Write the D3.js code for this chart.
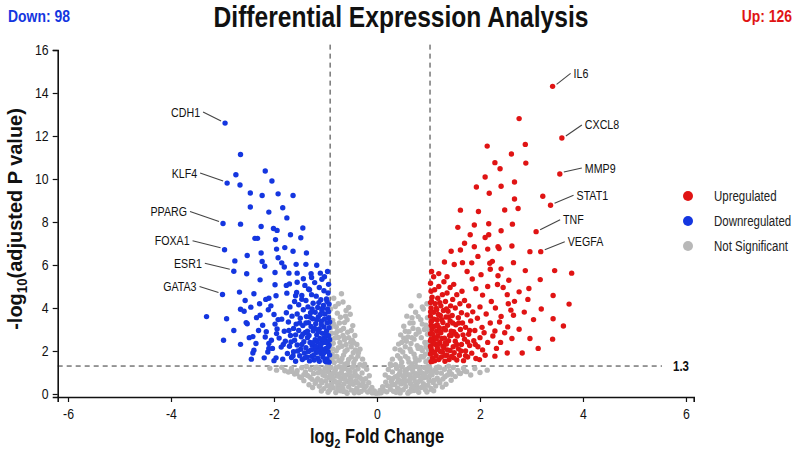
<!DOCTYPE html>
<html><head><meta charset="utf-8">
<script src="https://cdn.jsdelivr.net/npm/d3@7"></script>
<style>
html,body{margin:0;padding:0;background:#fff;}
svg{display:block;}
text{font-family:'Liberation Sans',Arial,sans-serif;}
</style></head>
<body>
<svg id="chart" width="800" height="452"></svg>
<script>
// ---------- DATA ----------
const title = "Differential Expression Analysis";
const downCount = 98;
const upCount = 126;
const xTicks = [-6,-4,-2,0,2,4,6];
const yTicks = [0,2,4,6,8,10,12,14,16];
const fcThresholdLow = -0.91;
const fcThresholdHigh = 1.03;
const pThreshold = 1.3;
const legendLabels = ["Upregulated","Downregulated","Not Significant"];

// labelled genes [name, log2FC, -log10 p]
const labeledDown = [["CDH1",-2.95,12.6],["KLF4",-2.91,9.81],["PPARG",-2.99,7.93],["FOXA1",-2.96,6.71],["ESR1",-2.78,5.71],["GATA3",-3.0,4.63]];
const labeledUp = [["IL6",3.41,14.31],["CXCL8",3.59,11.91],["MMP9",3.55,10.23],["STAT1",3.37,8.78],["TNF",3.09,7.55],["VEGFA",3.18,6.62]];

// downregulated genes [log2FC, -log10 p]
const downPoints = [
[-2.65,11.14],[-2.74,10.2],[-2.17,10.37],[-2.66,9.72],[-2.04,9.91],[-2.46,9.35],[-2.23,9.23],[-1.92,9.31],[-1.63,9.23],[-2.46,8.7],[-2.1,8.46],[-1.83,8.66],[-1.75,8.19],[-2.65,7.9],[-2.25,7.79],[-2.01,7.7],[-1.94,7.61],[-1.68,7.41],[-1.44,7.72],[-1.48,7.27],[-2.37,7.24],[-2.32,7.24],[-1.97,7.18],
[-2.52,6.44],[-2.25,6.56],[-1.95,6.74],[-1.79,6.81],[-1.63,6.64],[-1.37,6.56],[-1.92,6.34],[-2.76,6.19],[-2.53,5.59],[-2.23,6.16],[-2.18,5.94],[-2.27,5.31],[-1.98,5.65],[-1.85,6.1],[-1.8,5.91],[-1.57,6.03],[-1.38,6.03],[-1.17,5.99],[-1.71,5.62],[-1.55,5.62],[-1.28,5.59],[-1.07,5.34],[-1.98,5.08],[-1.76,5.05],[-1.7,5.12],[-1.55,5.2],[-1.43,5.36],[-1.31,4.85],
[-2.67,4.74],[-2.39,4.66],[-2.16,4.4],[-1.96,4.57],[-1.75,4.69],[-1.58,4.57],[-1.46,4.41],[-3.31,3.6],[-2.92,3.5],[-2.65,3.94],[-2.45,4.04],[-2.11,3.92],[-2.27,3.66],[-1.92,3.46],[-2.52,3.27],[-2.78,2.95],[-2.98,2.5],[-2.65,2.31],[-2.41,2.67],[-2.17,2.65],[-2.1,2.35],[-2.1,2.12],[-2.19,1.68],[-1.96,1.68],[-2.39,2.04],[-1.95,2.81],
[-2.54,3.32],[-2.41,1.91],[-2.3,2.95],[-2.05,2.5],[-2.22,3.2],[-2.0,3.7],[-2.12,1.95],[-2.35,2.35],[-2.48,2.62],[-2.03,2.12],[-2.28,4.2],[-2.06,4.1],[-2.58,3.85],[-2.15,2.9],[-2.0,1.55],[-2.34,3.55],[-2.44,1.62],[-1.98,3.25],[-2.1,4.45],[-2.56,4.35],
[-0.93,1.48],[-0.97,1.63],[-0.92,1.81],[-1.01,1.55],[-1.05,1.72],[-0.95,1.97],[-1.12,1.52],[-1.09,1.88],[-0.99,2.12],[-0.93,2.27],[-1.15,1.66],[-1.04,2.03],[-1.18,1.93],[-1.22,1.58],[-1.13,2.18],[-0.96,2.45],[-1.07,2.36],[-1.27,1.75],[-1.21,2.08],[-1.02,2.62],[-0.94,2.71],[-1.16,2.44],[-1.31,1.54],[-1.33,1.98],[-1.26,2.27],[-1.11,2.58],[-0.98,2.93],[-1.36,1.72],[-1.2,2.52],[-1.06,2.82],[-0.93,3.08],[-1.41,1.91],[-1.3,2.4],[-1.17,2.75],[-1.38,2.15],[-1.45,1.6],[-1.03,3.12],[-1.24,2.94],[-1.12,3.02],[-0.97,3.31],[-1.48,2.08],[-1.35,2.62],[-1.5,1.78],[-1.28,3.14],[-1.42,2.43],[-1.08,3.38],[-0.94,3.55],[-1.19,3.27],[-1.55,2.28],[-1.39,2.86],[-1.58,1.52],[-1.33,3.32],[-1.01,3.72],[-1.47,2.66],[-1.62,1.97],[-1.14,3.58],[-1.25,3.5],[-1.6,2.5],[-0.96,3.95],[-1.52,2.95],[-1.66,1.7],[-1.07,3.88],[-1.37,3.6],[-1.7,2.22],[-1.44,3.18],[-1.2,3.8],[-0.93,4.18],[-1.57,3.25],[-1.74,1.88],[-1.29,3.78],[-1.68,2.72],[-1.04,4.12],[-1.49,3.52],[-1.78,2.45],[-1.15,4.02],[-1.62,3.05],[-0.98,4.42],[-1.34,4.05],[-1.83,1.62],[-1.55,3.72],[-1.24,4.22],[-1.72,3.35],[-1.09,4.38],[-1.86,2.18],[-1.43,3.92],[-0.95,4.7],[-1.65,3.62],[-1.8,2.92],[-1.18,4.55],[-1.38,4.35],[-1.03,4.8],[-1.52,4.15],[-1.9,2.6],[-1.27,4.62],[-1.76,3.78],[-1.12,4.95],[-1.6,4.3],[-0.94,5.1],[-1.46,4.58],[-1.94,3.02],[-1.69,4.05],[-1.33,4.88],[-1.21,5.18],[-1.02,5.45],[-1.85,3.48],[-1.56,4.72],[-1.4,5.05],[-0.96,5.7],[-1.1,5.62],[-1.27,5.42],
[-0.99,1.5],[-1.03,1.92],[-0.95,2.18],[-1.08,2.12],[-1.14,1.98],[-1.0,2.4],[-1.06,2.55],[-0.92,2.52],[-1.1,2.3],[-1.19,2.22],[-1.23,1.8],[-1.28,2.05],[-1.24,2.38],[-1.14,2.9],[-0.99,2.78],[-1.32,2.72],[-1.08,3.22],[-0.92,3.35],[-1.21,3.05],[-1.4,1.68],[-1.46,2.3],[-1.02,3.48],[-1.17,3.45],[-0.94,3.82],[-1.35,2.92],[-1.3,3.58],[-1.1,3.7],[-1.54,2.0],[-1.44,2.78],[-1.06,3.98],[-1.26,3.95],[-1.67,2.42],[-1.58,2.75],[-0.97,4.3],[-1.13,4.25],[-1.5,3.3],[-1.63,1.78],[-1.71,2.95],[-1.38,3.3],[-1.82,2.3]
];

// upregulated genes [log2FC, -log10 p]
const upPoints = [
[2.76,12.81],[2.14,11.53],[2.88,11.61],[2.61,11.16],[2.29,10.76],[2.39,10.48],[2.89,10.74],[2.1,10.09],[2.67,9.86],[1.93,9.63],[2.41,9.66],[2.18,9.34],[2.67,9.07],[3.22,9.2],[1.62,8.55],[1.97,8.49],[2.48,8.56],[2.74,8.63],[1.57,7.75],[1.89,7.86],[2.17,7.92],[2.17,7.41],[1.81,7.41],[2.1,7.28],[2.41,7.59],[2.63,7.9],
[2.97,6.62],[1.44,6.64],[1.62,6.7],[1.7,7.01],[1.89,6.85],[2.15,6.74],[2.35,6.85],[2.37,6.77],[2.62,6.88],[1.31,6.14],[1.5,6.02],[1.66,6.11],[1.84,6.1],[1.96,6.4],[2.19,6.08],[2.24,6.17],[2.65,6.11],[2.41,5.82],[2.88,5.74],[3.45,5.74],[3.78,5.62],[3.17,5.32],[2.56,5.29],[2.34,5.09],[2.76,4.75],[2.95,4.91],[2.93,4.4],[3.42,4.58],[3.73,4.18],[3.19,3.95],[2.67,4.31],[2.53,4.62],[2.41,3.61],[2.65,3.66],[2.86,3.81],[3.04,3.46],[3.42,3.5],[3.62,3.16],[2.54,3.12],[2.76,3.01],[2.97,2.58],[3.41,2.55],[2.62,2.58],[3.13,2.12],[2.82,1.91],[2.53,1.91],[2.32,2.12],[2.29,1.76],[2.29,2.93],
[1.05,1.5],[1.08,1.68],[1.04,1.86],[1.12,1.55],[1.15,1.78],[1.06,2.02],[1.2,1.6],[1.1,1.95],[1.04,2.22],[1.18,2.08],[1.25,1.72],[1.09,2.35],[1.27,1.95],[1.32,1.52],[1.14,2.3],[1.05,2.55],[1.22,2.4],[1.36,1.8],[1.3,2.15],[1.11,2.62],[1.04,2.8],[1.26,2.58],[1.4,1.6],[1.42,2.02],[1.35,2.32],[1.18,2.7],[1.07,3.0],[1.45,1.75],[1.31,2.6],[1.16,2.92],[1.05,3.18],[1.5,1.92],[1.39,2.48],[1.24,2.85],[1.48,2.2],[1.55,1.58],[1.12,3.15],[1.33,2.98],[1.21,3.08],[1.06,3.4],[1.58,2.1],[1.44,2.72],[1.6,1.8],[1.37,3.2],[1.52,2.45],[1.17,3.45],[1.04,3.62],[1.28,3.32],[1.64,2.3],[1.49,2.9],[1.68,1.55],[1.42,3.4],[1.1,3.8],[1.56,2.7],[1.72,2.0],[1.23,3.65],[1.34,3.58],[1.7,2.55],[1.05,4.0],[1.62,3.0],[1.76,1.72],[1.16,3.92],[1.46,3.65],[1.8,2.25],[1.53,3.22],[1.29,3.88],[1.04,4.25],[1.66,3.3],[1.84,1.9],[1.38,3.85],[1.78,2.78],[1.13,4.2],[1.58,3.55],[1.88,2.48],[1.24,4.1],[1.72,3.1],[1.07,4.5],[1.43,4.1],[1.92,1.65],[1.64,3.78],[1.33,4.3],[1.82,3.4],[1.18,4.45],[1.96,2.2],[1.52,4.0],[1.05,4.78],[1.75,3.68],[1.9,2.95],[1.27,4.62],[1.47,4.4],[1.12,4.85],[1.61,4.2],[2.0,2.62],[1.36,4.7],[1.86,3.82],[1.2,5.0],[1.7,4.35],[1.04,5.15],[1.55,4.62],[2.04,3.1],[1.78,4.1],[1.42,4.95],[1.3,5.22],[1.1,5.45],[1.95,3.52],[1.65,4.78],[1.49,5.1],[1.06,5.7],[1.2,5.6],[1.36,5.45],
[1.08,1.52],[1.12,1.92],[1.05,2.15],[1.17,2.12],[1.23,1.98],[1.09,2.42],[1.15,2.55],[1.04,2.48],[1.19,2.3],[1.28,2.22],[1.32,1.8],[1.37,2.05],[1.33,2.38],[1.23,2.9],[1.08,2.78],[1.41,2.72],[1.17,3.22],[1.05,3.35],[1.3,3.05],[1.49,1.68],[1.55,2.3],[1.11,3.48],[1.26,3.45],[1.04,3.82],[1.44,2.92],[1.39,3.58],[1.19,3.7],[1.63,2.0],[1.53,2.78],[1.15,3.98],[1.35,3.95],[1.76,2.42],[1.67,2.75],[1.06,4.3],[1.22,4.25],[1.59,3.3],[1.72,1.78],[1.8,2.95],[1.47,3.3],[1.91,2.3],
[1.99,1.6],[2.1,1.8],[2.05,2.05],[2.15,2.4],[2.08,2.85],[2.2,3.3],[2.12,3.72],[2.0,4.05],[2.22,4.3],[2.05,4.6],[1.92,4.9],[2.15,5.0],[1.85,5.35],[2.02,5.55],[1.75,5.7],[2.2,5.8],[2.35,5.5],[2.45,4.95],[2.3,4.0],[2.38,3.35],[2.25,2.7],[2.4,2.4],[2.48,2.85],[2.55,4.2],[2.6,3.9]
];

// not significant genes [log2FC, -log10 p]
const nsPoints = [
[-0.69,4.66],[-0.55,4.02],[-0.81,4.07],[-0.77,3.76],[-0.71,3.57],[-0.52,3.71],[-0.86,3.42],[-0.63,3.32],[-0.47,3.18],[-0.79,3.12],[-0.7,2.96],[-0.57,2.87],[-0.43,2.72],[-0.88,2.83],[-0.75,2.63],[-0.63,2.52],[-0.51,2.41],[-0.39,2.3],[-0.85,2.36],[-0.68,2.22],[-0.33,2.08],[-0.58,2.06],[-0.79,2.01],[-0.46,1.92],[-0.87,1.86],[-0.65,1.81],[-0.37,1.76],[-0.28,1.62],[-0.55,1.61],[-0.74,1.56],[-0.83,1.46],[-0.45,1.47],[-0.62,1.38],[-0.33,1.36],[-0.9,3.95],[-0.66,4.28],[-0.6,3.88],[-0.84,4.45],[-0.89,3.1],[-0.82,2.6],[-0.72,2.4],[-0.6,2.3],[-0.9,2.1],[-0.78,1.75],[-0.5,2.2],[-0.42,1.62],[-0.68,1.65],[-0.88,1.6],[-0.57,1.44],[-0.24,1.38],[-0.36,1.92],[-0.73,3.3],[-0.65,3.05],[-0.55,2.62],[-0.8,2.82],[-0.48,2.5],[-0.9,2.55],[-0.66,2.72],[-0.58,3.45],[-0.75,4.2],
[-0.42,2.05],[-0.5,1.72],[-0.62,1.98],[-0.7,1.5],[-0.82,1.72],[-0.75,2.15],[-0.86,2.1],[-0.64,2.62],[-0.77,2.92],[-0.5,2.95],[-0.84,3.25],[-0.61,3.62],[-0.45,2.38],
[0.82,4.57],[0.66,4.1],[0.75,3.8],[0.9,3.95],[0.58,3.62],[0.85,3.45],[0.7,3.3],[0.52,3.15],[0.95,3.2],[0.8,3.0],[0.62,2.9],[0.46,2.75],[0.98,2.78],[0.86,2.62],[0.72,2.55],[0.57,2.45],[0.42,2.32],[0.93,2.4],[0.78,2.25],[0.35,2.1],[0.64,2.1],[0.88,2.02],[0.5,1.95],[1.0,1.9],[0.72,1.85],[0.4,1.78],[0.3,1.62],[0.6,1.65],[0.82,1.58],[0.95,1.5],[0.48,1.48],[0.68,1.4],[0.36,1.36],[0.26,1.4],[0.98,3.55],[0.92,3.0],[1.0,2.4],[0.76,2.78],[0.66,2.35],[0.55,2.2],[0.85,2.15],[0.45,1.65],[0.74,1.68],[0.9,1.72],[0.62,1.48],[1.01,1.62],[0.7,3.05],[0.6,2.65],[0.8,3.6],[0.52,2.6],[0.97,4.2],[0.88,4.05],[0.68,3.55],[0.99,2.1],
[0.45,2.05],[0.55,1.75],[0.66,1.98],[0.75,1.5],[0.86,1.75],[0.8,2.12],[0.95,2.2],[0.68,2.62],[0.82,2.88],[0.55,2.92],[0.88,3.25],[0.64,3.3],[0.48,2.4],[0.94,1.85],[1.0,3.0],
[-0.02,0.03],[-0.05,0.14],[-0.09,0.05],[-0.1,0.31],[-0.13,0.18],[-0.16,0.52],[-0.18,0.09],[-0.21,0.36],[-0.22,0.71],[-0.25,0.2],[-0.27,0.55],[-0.29,0.98],[-0.31,0.12],[-0.33,0.41],[-0.34,0.78],[-0.37,1.17],[-0.39,0.27],[-0.41,0.62],[-0.43,0.93],[-0.44,0.06],[-0.46,0.45],[-0.48,1.24],[-0.5,0.18],[-0.52,0.74],[-0.53,1.05],[-0.55,0.33],[-0.57,0.58],[-0.59,0.88],[-0.6,0.1],[-0.62,1.19],[-0.64,0.47],[-0.66,0.26],[-0.67,0.72],[-0.69,0.99],[-0.71,0.15],[-0.73,0.56],[-0.74,1.27],[-0.76,0.38],[-0.78,0.84],[-0.8,0.07],[-0.81,1.1],[-0.83,0.62],[-0.85,0.29],[-0.86,0.95],[-0.88,0.47],[-0.9,1.21],[-0.92,0.18],[-0.93,0.76],[-0.95,1.03],[-0.97,0.4],[-0.99,0.6],[-1.01,1.18],[-1.03,0.25],[-1.05,0.88],[-1.07,0.52],[-1.1,1.07],[-1.12,0.36],[-1.15,0.71],[-1.17,1.25],[-1.2,0.5],[-1.23,0.95],[-1.26,0.68],[-1.29,1.14],[-1.32,0.43],[-1.35,0.86],[-1.39,1.03],[-1.42,0.62],[-1.46,1.22],[-1.5,0.79],[-1.55,1.08],[-1.6,0.93],[-1.66,1.19],[-1.72,1.02],[-1.79,1.08],[-1.85,1.24],[-1.95,1.11],[-1.47,0.77],[-2.08,1.2],[-1.25,0.3],[-1.08,0.14],[-0.95,0.08],[-0.7,0.35],[-0.58,0.03],[-0.35,0.07],[-0.48,0.82],[-0.38,0.52],[-0.62,0.68],[-0.88,0.72],[-0.74,0.92],[-1.0,0.82],[-1.14,0.98],[-0.8,1.22],[-0.56,1.12],[-0.43,1.05],[-0.66,1.26],[-0.97,1.27],[-1.2,1.2],[-1.37,1.28],
[-0.15,0.85],[-0.2,1.15],[-0.26,1.3],[-0.3,0.7],[-0.4,0.85],[-0.45,1.3],[-0.5,0.6],[-0.54,0.95],[-0.63,0.85],[-0.68,1.12],[-0.72,0.78],[-0.79,0.55],[-0.83,1.0],[-0.86,0.75],[-0.9,0.9],[-0.96,1.15],[-1.04,1.0],[-1.08,0.62],[-1.13,1.2],[-1.18,0.6],[-1.3,0.78],[-1.42,0.9],[-1.56,0.95],[-1.65,1.05],[-0.28,0.4],[-0.42,0.18],[-0.52,0.5],[-0.65,0.12],[-0.76,0.22],[-0.9,0.35],
[0.03,0.04],[0.06,0.17],[0.08,0.06],[0.11,0.34],[0.14,0.15],[0.17,0.55],[0.19,0.1],[0.2,0.39],[0.23,0.76],[0.26,0.22],[0.28,0.58],[0.3,1.02],[0.32,0.13],[0.34,0.44],[0.36,0.81],[0.38,1.2],[0.4,0.28],[0.42,0.65],[0.44,0.96],[0.45,0.05],[0.47,0.47],[0.49,1.26],[0.51,0.2],[0.53,0.77],[0.55,1.08],[0.56,0.35],[0.58,0.6],[0.6,0.9],[0.62,0.11],[0.63,1.22],[0.65,0.49],[0.67,0.27],[0.68,0.74],[0.7,1.01],[0.72,0.16],[0.74,0.58],[0.76,1.28],[0.77,0.39],[0.79,0.86],[0.81,0.08],[0.83,1.12],[0.84,0.64],[0.86,0.3],[0.88,0.97],[0.9,0.48],[0.92,1.23],[0.94,0.2],[0.95,0.78],[0.97,1.05],[0.99,0.41],[1.01,0.62],[1.03,1.19],[1.05,0.26],[1.07,0.9],[1.09,0.54],[1.12,1.09],[1.14,0.37],[1.17,0.73],[1.19,1.26],[1.22,0.52],[1.25,0.97],[1.28,0.7],[1.31,1.15],[1.34,0.45],[1.37,0.88],[1.41,1.05],[1.44,0.64],[1.48,1.23],[1.52,0.81],[1.57,1.1],[1.62,0.95],[1.68,1.2],[1.74,1.04],[1.82,0.88],[1.9,1.18],[2.0,1.0],[2.14,1.11],[1.27,0.32],[1.1,0.15],[0.97,0.09],[0.72,0.36],[0.6,0.04],[0.37,0.08],[0.5,0.84],[0.4,0.55],[0.64,0.7],[0.9,0.74],[0.76,0.94],[1.02,0.84],[1.16,1.0],[0.82,1.24],[0.58,1.14],[0.45,1.07],[0.68,1.27],[0.99,1.28],[1.22,1.22],[1.39,1.29],
[0.16,0.88],[0.22,1.14],[0.27,1.32],[0.31,0.72],[0.41,0.86],[0.46,1.31],[0.51,0.62],[0.55,0.95],[0.64,0.88],[0.69,1.14],[0.73,0.8],[0.8,0.56],[0.84,1.02],[0.87,0.77],[0.92,0.9],[0.98,1.16],[1.05,1.02],[1.1,0.64],[1.15,1.22],[1.2,0.62],[1.32,0.8],[1.45,0.92],[1.6,0.97],[1.7,1.07],[0.29,0.42],[0.43,0.2],[0.53,0.52],[0.66,0.14],[0.78,0.24],[0.92,0.36]
];

// ---------- LAYOUT ----------
const W = 800, H = 452;
const colors = {up:"#e01414", down:"#1436e0", ns:"#b8b8b8"};
const labelOffsetsDown = [[-24,-11],[-29,-10],[-35,-12],[-34,-9],[-31,-8],[-25,-8]];
const labelOffsetsUp = [[20,-13],[22,-13],[24,-6],[25,-10],[26,-12],[26,-10]];
const SQ = 0.82; // horizontal condensing of the narrow typeface

const svg = d3.select("#chart");
svg.append("rect").attr("width",W).attr("height",H).attr("fill","#fff");

// condensed text helper
function ctext(parent, px, py, opts){
  const grp = parent.append("g").attr("transform",`translate(${px},${py}) scale(${opts.sx||SQ},1)`);
  const t = grp.append("text").attr("x",0).attr("y",0)
    .attr("text-anchor",opts.anchor||"start").attr("font-size",opts.size||12)
    .attr("font-weight",opts.weight||"normal").attr("fill",opts.fill||"#111");
  if(opts.dy) t.attr("dy",opts.dy);
  if(opts.text!==undefined) t.text(opts.text);
  return t;
}

const x = d3.scaleLinear().domain([-6.2,6.15]).range([57.7,693.7]);
const y = d3.scaleLinear().domain([-0.14,16]).range([397,50]);

// threshold lines
const g = svg.append("g");
g.selectAll("line.vth").data([fcThresholdLow, fcThresholdHigh]).join("line")
  .attr("x1",d=>x(d)).attr("x2",d=>x(d)).attr("y1",y(16.25)).attr("y2",y(0))
  .attr("stroke","#333").attr("stroke-width",1).attr("stroke-dasharray","5,4");
g.append("line").attr("x1",x.range()[0]).attr("x2",662).attr("y1",y(pThreshold)).attr("y2",y(pThreshold))
  .attr("stroke","#333").attr("stroke-width",1).attr("stroke-dasharray","5,4");
ctext(svg, 673, y(pThreshold), {text:String(pThreshold), size:14, weight:"bold", dy:"0.35em"});

// points
const r = 2.7;
g.selectAll("circle.ns").data(nsPoints).join("circle")
  .attr("cx",d=>x(d[0])).attr("cy",d=>y(d[1])).attr("r",r).attr("fill",colors.ns);
g.selectAll("circle.dn").data(downPoints.concat(labeledDown.map(d=>[d[1],d[2]]))).join("circle")
  .attr("cx",d=>x(d[0])).attr("cy",d=>y(d[1])).attr("r",r).attr("fill",colors.down);
g.selectAll("circle.upp").data(upPoints.concat(labeledUp.map(d=>[d[1],d[2]]))).join("circle")
  .attr("cx",d=>x(d[0])).attr("cy",d=>y(d[1])).attr("r",r).attr("fill",colors.up);

// gene labels
function addLabels(arr, offs, anchor){
  arr.forEach((d,i)=>{
    const px = x(d[1]), py = y(d[2]);
    const [ox,oy] = offs[i];
    const sx = Math.sign(ox);
    svg.append("line").attr("x1",px+sx*4).attr("y1",py-2).attr("x2",px+ox-sx*2).attr("y2",py+oy)
      .attr("stroke","#444").attr("stroke-width",1.1);
    ctext(svg, px+ox+sx*1, py+oy, {text:d[0], size:13, anchor:anchor, dy:"0.35em"});
  });
}
addLabels(labeledDown, labelOffsetsDown, "end");
addLabels(labeledUp, labelOffsetsUp, "start");

// axes
const xAxis = svg.append("g").attr("transform",`translate(0,397)`)
  .call(d3.axisBottom(x).tickValues(xTicks).tickSizeOuter(0).tickSize(5).tickPadding(6));
const yAxis = svg.append("g").attr("transform",`translate(57.7,0)`)
  .call(d3.axisLeft(y).tickValues(yTicks).tickSizeOuter(0).tickSize(5).tickPadding(4));
[xAxis,yAxis].forEach(a=>{
  a.select(".domain").attr("stroke","#111").attr("stroke-width",1.6);
  a.selectAll(".tick line").attr("stroke","#111").attr("stroke-width",1.2);
  a.selectAll(".tick text").attr("font-size",15).attr("fill","#111")
   .style("font-family","'Liberation Sans',Arial,sans-serif");
});
xAxis.selectAll(".tick text").text(d=>d<0?"-"+Math.abs(d):d).attr("transform",`scale(${SQ},1)`);
yAxis.selectAll(".tick text").attr("x",-9/SQ).attr("transform",`scale(${SQ},1)`);

// axis titles
const xt = ctext(svg, 377, 443, {size:20, weight:"bold", anchor:"middle"});
xt.append("tspan").text("log");
xt.append("tspan").attr("font-size",13).attr("dy",5).text("2");
xt.append("tspan").attr("dy",-5).text(" Fold Change");

const ytg = svg.append("g").attr("transform","translate(22,219) rotate(-90) scale(0.95,1)");
const yt = ytg.append("text").attr("text-anchor","middle").attr("font-size",21).attr("font-weight","bold").attr("fill","#111");
yt.append("tspan").text("-log");
yt.append("tspan").attr("font-size",14).attr("dy",5).text("10");
yt.append("tspan").attr("dy",-5).text("(adjusted P value)");

// title & counts
ctext(svg, 401, 27, {text:title, size:30, weight:"bold", anchor:"middle"});
ctext(svg, 8, 22, {text:"Down: "+downCount, size:17, weight:"bold", fill:colors.down});
ctext(svg, 792, 22, {text:"Up: "+upCount, size:17, weight:"bold", fill:colors.up, anchor:"end"});

// legend
const lg = svg.append("g").attr("transform","translate(688,196)");
const lc = [colors.up, colors.down, colors.ns];
legendLabels.forEach((t,i)=>{
  lg.append("circle").attr("cx",0).attr("cy",i*25).attr("r",5).attr("fill",lc[i]);
  ctext(lg, 26, i*25, {text:t, size:14, fill:"#222", dy:"0.35em"});
});
</script>
</body></html>
